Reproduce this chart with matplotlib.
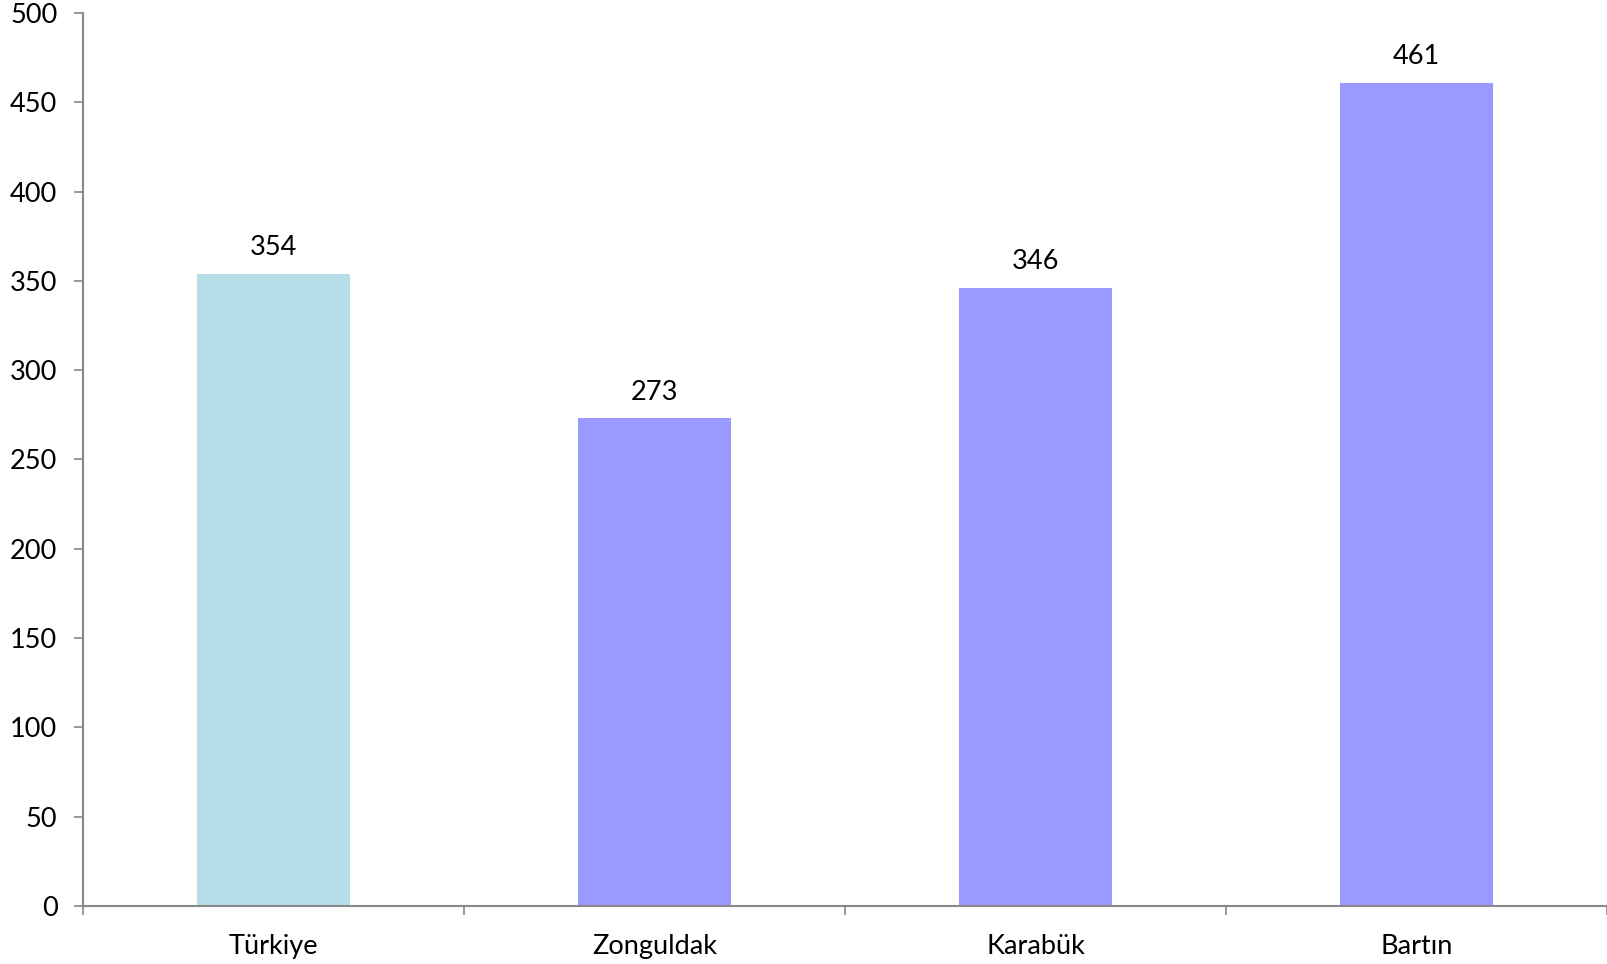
import numpy as np
from matplotlib import pyplot as plt

# data
regions = ['Türkiye', 'Zonguldak', 'Karabük', 'Bartın']
values = [354, 273, 346, 461]
bar_colors = ['#B7DDE8', '#9999FF', '#9999FF', '#9999FF']
y_ticks = list(range(0, 501, 50))

plt.rcParams['font.family'] = ['Lato', 'DejaVu Sans']

figure = plt.figure(figsize=(16.07, 9.64), dpi=100)
axis = figure.add_axes([0.0517, 0.0602, 0.9483, 0.9263])

positions = np.arange(len(regions))
bars = axis.bar(positions, values, width=0.4, color=bar_colors, zorder=2)

# value labels above bars
for rect, value in zip(bars, values):
    axis.annotate(f'{value}', xy=(rect.get_x() + rect.get_width() / 2, rect.get_height()),
                  xytext=(0, 10), textcoords='offset points',
                  ha='center', va='bottom', fontsize=19.5, color='black')

axis.set_xlim(-0.5, len(regions) - 0.5)
axis.set_ylim(0, 500)
axis.set_yticks(y_ticks)

# category labels centered, tick marks on category boundaries
axis.set_xticks(positions)
axis.set_xticklabels(regions)
axis.set_xticks(np.arange(-0.5, len(regions), 1.0), minor=True)
axis.tick_params(axis='x', which='major', length=0, pad=20, labelsize=19.5)
axis.tick_params(axis='x', which='minor', length=6.5, width=1.2, color='#898989', direction='out')
axis.tick_params(axis='y', length=6.5, width=1.2, color='#898989', labelsize=19.5, pad=12)

for side in ['top', 'right']:
    axis.spines[side].set_visible(False)
for side in ['left', 'bottom']:
    axis.spines[side].set_color('#898989')
    axis.spines[side].set_linewidth(1.5)

figure.savefig('out.png', dpi=100)
